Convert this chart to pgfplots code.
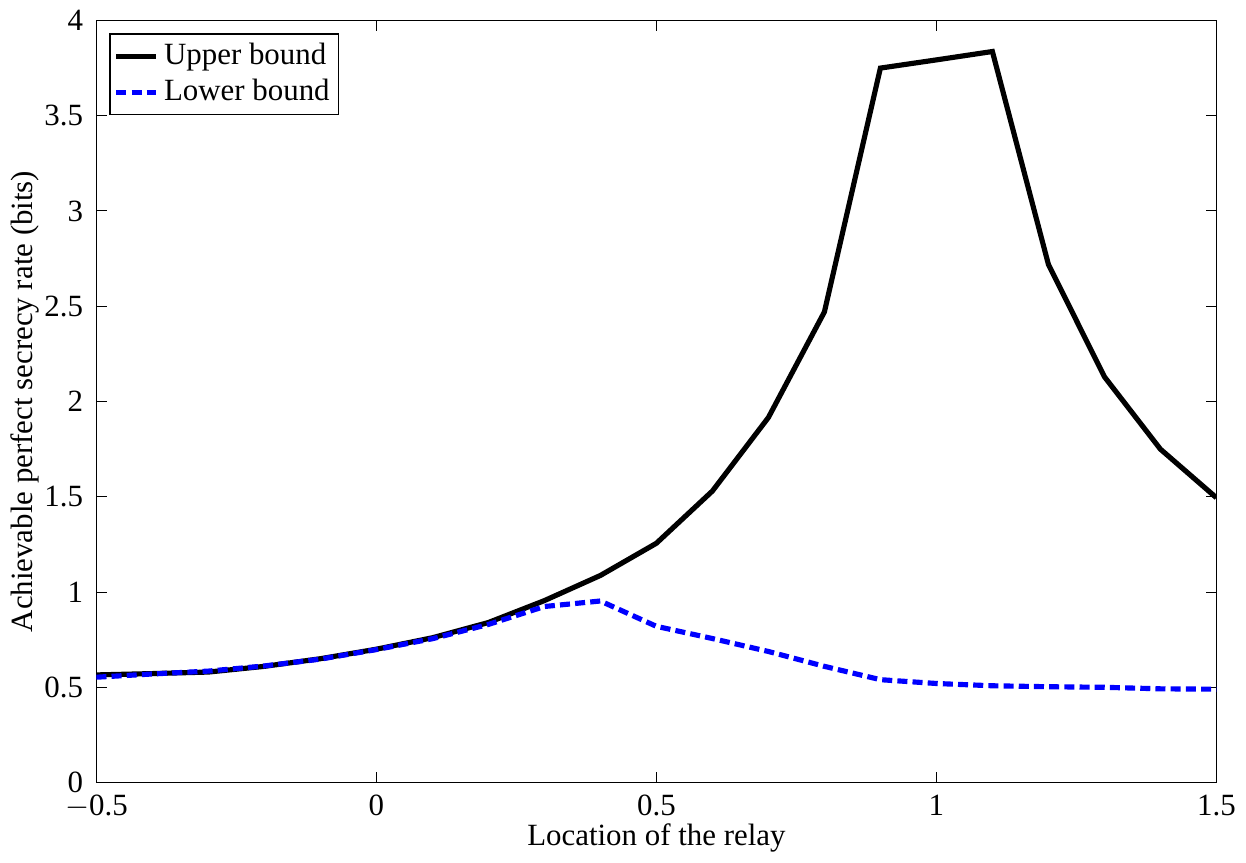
\documentclass[border=0pt]{standalone}
\usepackage{fontspec}
\setmainfont{Liberation Serif}
\usepackage{pgfplots}
\pgfplotsset{compat=1.18}

\begin{document}
\fontsize{12}{14}\selectfont
\begin{tikzpicture}
\begin{axis}[
    scale only axis,
    width=435pt,
    height=296pt,
    xmin=-0.5, xmax=1.5,
    ymin=0, ymax=4,
    xtick={-0.5,0,0.5,1,1.5},
    xticklabels={$-$0.5,0,0.5,1,1.5},
    ytick={0,0.5,...,4},
    tick align=inside,
    major tick length=4pt,
    tick style={black, line width=0.4pt},
    axis line style={line width=0.6pt},
    /pgf/number format/assume math mode=true,
    tick label style={font=\fontsize{12}{14}\selectfont},
    label style={font=\fontsize{12}{14}\selectfont},
    xlabel={Location of the relay},
    ylabel={Achievable perfect secrecy rate (bits)},
    xlabel style={yshift=6pt},
    ylabel style={yshift=-6pt},
    xticklabel style={yshift=-0.5pt},
    yticklabel style={xshift=-1pt},
    legend style={
        at={(0.0116,0.983)},
        anchor=north west,
        draw=black,
        fill=white,
        line width=0.5pt,
        inner sep=1.5pt,
        row sep=0pt,
        font=\fontsize{12}{14}\selectfont,
        legend cell align=left
    },
    legend image code/.code={
        \draw[#1] (0pt,0pt) -- (15.5pt,0pt);
    },
]
\addplot[black, line width=2pt] coordinates {
    (-0.5,0.565) (-0.4,0.572) (-0.3,0.580) (-0.2,0.610) (-0.1,0.650)
    (0.0,0.700) (0.1,0.760) (0.2,0.840) (0.3,0.955) (0.4,1.087)
    (0.5,1.256) (0.6,1.530) (0.7,1.916) (0.8,2.470) (0.9,3.750)
    (1.0,3.793) (1.1,3.837) (1.2,2.720) (1.3,2.130) (1.4,1.750)
    (1.5,1.495)
};
\addlegendentry{Upper bound}
\addplot[blue, line width=2pt, dash pattern=on 3.9pt off 2pt] coordinates {
    (-0.5,0.553) (-0.4,0.570) (-0.3,0.585) (-0.2,0.612) (-0.1,0.648)
    (0.0,0.698) (0.1,0.755) (0.2,0.830) (0.3,0.924) (0.4,0.953)
    (0.5,0.820) (0.6,0.756) (0.7,0.688) (0.8,0.610) (0.9,0.540)
    (1.0,0.520) (1.1,0.508) (1.2,0.503) (1.3,0.500) (1.4,0.492)
    (1.5,0.490)
};
\addlegendentry{Lower bound}
\end{axis}
\end{tikzpicture}
\end{document}
